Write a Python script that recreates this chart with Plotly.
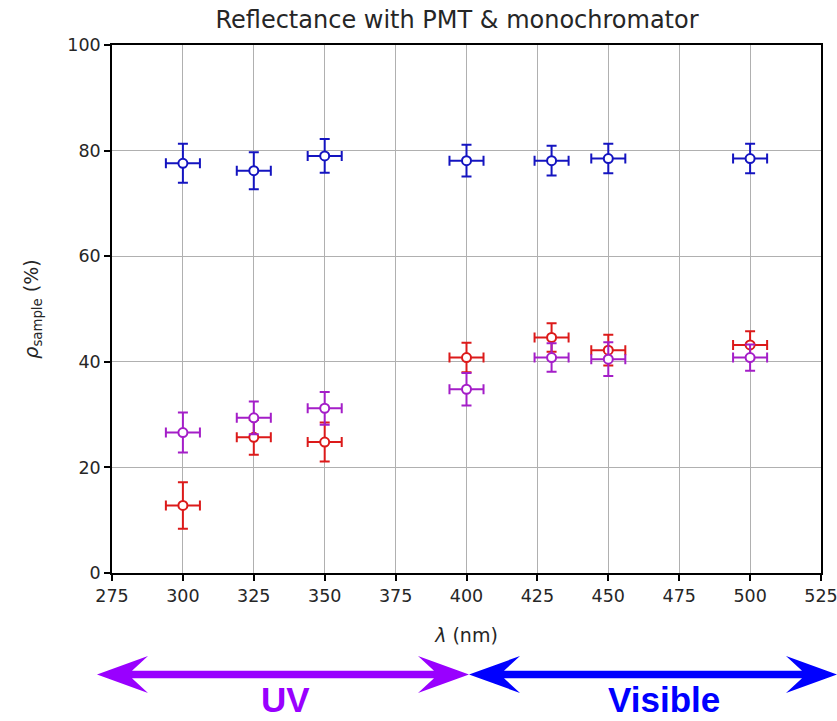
import plotly.graph_objects as go

# ---- data ----
wavelength = [300, 325, 350, 400, 430, 450, 500]
wl_err = [6, 6, 6, 6, 6, 6, 6]

blue_vals = [77.6, 76.2, 79.0, 78.1, 78.1, 78.5, 78.5]
blue_err = [3.7, 3.5, 3.2, 3.0, 2.8, 2.8, 2.8]

red_vals = [12.8, 25.7, 24.8, 40.8, 44.6, 42.2, 43.2]
red_err = [4.4, 3.3, 3.7, 2.8, 2.7, 2.9, 2.6]

purple_vals = [26.6, 29.4, 31.2, 34.8, 40.8, 40.5, 40.8]
purple_err = [3.8, 3.1, 3.1, 3.1, 2.7, 3.2, 2.5]

x_ticks = [275, 300, 325, 350, 375, 400, 425, 450, 475, 500, 525]
y_ticks = [0, 20, 40, 60, 80, 100]

series = [
    ("blue", blue_vals, blue_err, "#1414c0"),
    ("red", red_vals, red_err, "#dc1a1a"),
    ("purple", purple_vals, purple_err, "#a41ec8"),
]

W, H = 837, 721
ML, MR, MT, MB = 112, 16, 45, 148
PW, PH = W - ML - MR, H - MT - MB


def px(x):
    return (x - ML) / PW


def py(y):
    return (H - MB - y) / PH


fig = go.Figure()
for name, vals, errs, col in series:
    fig.add_trace(go.Scatter(
        x=wavelength, y=vals, mode="markers", name=name,
        marker=dict(symbol="circle", size=9, color="white",
                    line=dict(color=col, width=2)),
        error_y=dict(type="data", array=errs, visible=True, color=col,
                     thickness=2, width=5),
        error_x=dict(type="data", array=wl_err, visible=True, color=col,
                     thickness=2, width=5),
        showlegend=False,
    ))


def arrow_path(L, R, yc, head=51, notch=35, hh=18.5, sh=3.75):
    pts = [
        (L, yc), (L + head, yc - hh), (L + notch, yc - sh),
        (R - notch, yc - sh), (R - head, yc - hh), (R, yc),
        (R - head, yc + hh), (R - notch, yc + sh), (L + notch, yc + sh),
        (L + head, yc + hh),
    ]
    return "M " + " L ".join(f"{px(a):.5f},{py(b):.5f}" for a, b in pts) + " Z"


shapes = [
    dict(type="path", xref="paper", yref="paper",
         path=arrow_path(97, 469, 674.5), fillcolor="#9900ff",
         line=dict(width=0)),
    dict(type="path", xref="paper", yref="paper",
         path=arrow_path(469, 837, 674.5), fillcolor="#0000ff",
         line=dict(width=0)),
]

label_font = "Liberation Sans Narrow, Arial Narrow, Liberation Sans, Arial"
annotations = [
    dict(text="<b>UV</b>", x=px(285.5), y=py(699), xref="paper", yref="paper",
         showarrow=False, xanchor="center", yanchor="middle",
         font=dict(family=label_font, size=35, color="#9900ff")),
    dict(text="<b>Visible</b>", x=px(664), y=py(699), xref="paper", yref="paper",
         showarrow=False, xanchor="center", yanchor="middle",
         font=dict(family=label_font, size=35, color="#0000ff")),
]

axis_common = dict(
    showgrid=True, gridcolor="#b0b0b0", gridwidth=1,
    showline=True, linecolor="black", linewidth=1.5, mirror=True,
    ticks="outside", ticklen=6, tickcolor="black", tickwidth=1.5,
    zeroline=False, automargin=False,
    tickfont=dict(family="DejaVu Sans", size=17.5, color="#262626"),
)

fig.update_layout(
    width=W, height=H,
    margin=dict(l=ML, r=MR, t=MT, b=MB, autoexpand=False),
    paper_bgcolor="white", plot_bgcolor="white",
    title=dict(text="Reflectance with PMT & monochromator",
               xref="container", x=457 / W, xanchor="center",
               yref="container", y=1 - 20 / H, yanchor="middle",
               font=dict(family="DejaVu Sans", size=24, color="#262626")),
    xaxis=dict(range=[275, 525], tickvals=x_ticks, ticklabeloverflow="allow",
               title=dict(text="<i>λ</i> (nm)", standoff=24,
                          font=dict(family="DejaVu Sans", size=19, color="#262626")),
               **axis_common),
    yaxis=dict(range=[0, 100], tickvals=y_ticks,
               title=dict(text="<i>ρ</i><sub>sample</sub> (%)", standoff=24,
                          font=dict(family="DejaVu Sans", size=19, color="#262626")),
               **axis_common),
    shapes=shapes,
    annotations=annotations,
)

fig.write_html("out.html")
